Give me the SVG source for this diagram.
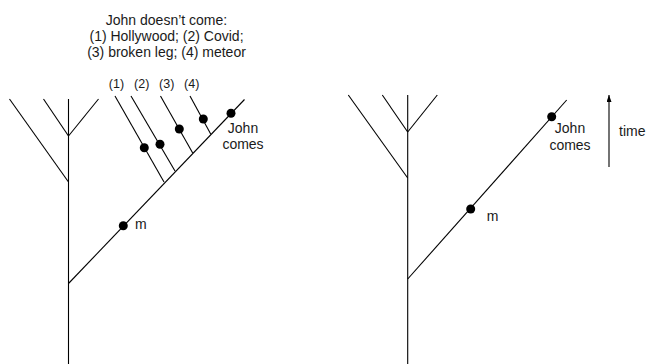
<svg xmlns="http://www.w3.org/2000/svg" width="646" height="364" viewBox="0 0 646 364">
<defs>
<style>
.ln{stroke:#000;stroke-width:1.1;fill:none}
.dot{fill:#000}
.t{font-family:"Liberation Sans",Arial,sans-serif;font-size:14px;fill:#1a1a1a}
.s{font-family:"Liberation Sans",Arial,sans-serif;font-size:12.5px;fill:#1a1a1a}
</style>
<marker id="ah" markerWidth="8" markerHeight="6" refX="7" refY="2.5" orient="auto" markerUnits="userSpaceOnUse">
<path d="M0,0 L7,2.5 L0,5 Z" fill="#000"/>
</marker>
</defs>
<rect width="646" height="364" fill="#fff"/>
<g id="title">
<text class="t" x="166.5" y="25" text-anchor="middle">John doesn’t come:</text>
<text class="t" x="166.5" y="41" text-anchor="middle">(1) Hollywood; (2) Covid;</text>
<text class="t" x="166.5" y="57" text-anchor="middle">(3) broken leg; (4) meteor</text>
</g>
<g id="connectors">
<line class="ln" x1="68.5" y1="99" x2="68.5" y2="364"/>
<line class="ln" x1="9.5" y1="99" x2="68.5" y2="182"/>
<line class="ln" x1="43.5" y1="99" x2="68.5" y2="136"/>
<line class="ln" x1="98.5" y1="99" x2="68.5" y2="136"/>
<line class="ln" x1="68.5" y1="283.5" x2="244.5" y2="99.5"/>
<line class="ln" x1="115" y1="96" x2="164" y2="182"/>
<line class="ln" x1="131" y1="96" x2="175" y2="171"/>
<line class="ln" x1="160.5" y1="96" x2="192.7" y2="153"/>
<line class="ln" x1="190" y1="96" x2="210.7" y2="134"/>
<line class="ln" x1="407.7" y1="95" x2="407.7" y2="364"/>
<line class="ln" x1="348.3" y1="95" x2="407.7" y2="178"/>
<line class="ln" x1="382.3" y1="95" x2="407.7" y2="132"/>
<line class="ln" x1="437.3" y1="95" x2="407.7" y2="132"/>
<line class="ln" x1="407.7" y1="279" x2="566.7" y2="100"/>
<line class="ln" x1="609" y1="167" x2="609" y2="95" marker-end="url(#ah)"/>
</g>
<g id="labels">
<text class="s" x="116.5" y="87.5" text-anchor="middle">(1)</text>
<text class="s" x="141.7" y="87.5" text-anchor="middle">(2)</text>
<text class="s" x="166.7" y="87.5" text-anchor="middle">(3)</text>
<text class="s" x="191.7" y="87.5" text-anchor="middle">(4)</text>
</g>
<g id="left-dots">
<circle class="dot" cx="144.3" cy="147.7" r="4.5"/>
<circle class="dot" cx="160" cy="144.3" r="4.5"/>
<circle class="dot" cx="179.3" cy="129" r="4.5"/>
<circle class="dot" cx="203.3" cy="119" r="4.5"/>
</g>
<g id="left-john">
<circle class="dot" cx="231" cy="113.3" r="4.5"/>
<text class="t" x="243" y="132.7" text-anchor="middle">John</text>
<text class="t" x="243" y="149.3" text-anchor="middle">comes</text>
</g>
<g id="left-m">
<circle class="dot" cx="123.3" cy="225.7" r="4.5"/>
<text class="t" x="135" y="229">m</text>
</g>
<g id="right-john">
<circle class="dot" cx="551.7" cy="116.7" r="4.5"/>
<text class="t" x="570" y="133.3" text-anchor="middle">John</text>
<text class="t" x="570" y="149.5" text-anchor="middle">comes</text>
</g>
<g id="right-m">
<circle class="dot" cx="470.7" cy="209" r="4.5"/>
<text class="t" x="486.7" y="220.5">m</text>
</g>
<g id="time">
<text class="t" x="619" y="135.5">time</text>
</g>
</svg>
